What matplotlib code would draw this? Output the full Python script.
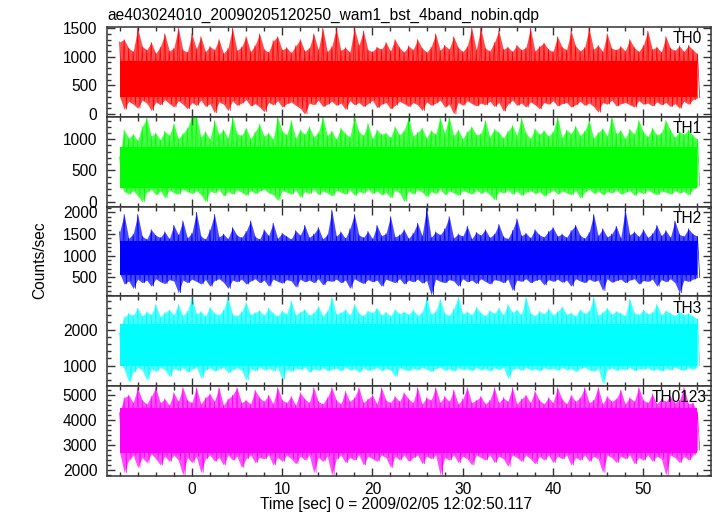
import numpy as np
import matplotlib
matplotlib.use("Agg")
import matplotlib.pyplot as plt
from matplotlib.ticker import MultipleLocator

plt.rcParams['font.family'] = ['Liberation Sans', 'DejaVu Sans']

# bin times (sec), 0.5 s resolution of the read-off envelopes
time = np.arange(-8.0, 56.01, 0.5)

panel_names = ['TH0', 'TH1', 'TH2', 'TH3', 'TH0123']
colors = ['#ff0000', '#00ff00', '#0000ff', '#00ffff', '#ff00ff']

# upper / lower envelopes of each light curve (counts/sec)
th0_hi = [1260, 1300, 1150, 1090, 1500, 1180, 1120, 1250, 1060, 1170, 1400, 1100, 1150, 1500, 1120, 1080,
          1400, 1140, 1350, 1090, 1180, 1120, 1300, 1060, 1150, 1500, 1110, 1170, 1350, 1090, 1200, 1400,
          1130, 1080, 1280, 1350, 1120, 1160, 1070, 1190, 1300, 1100, 1150, 1400, 1120, 1500, 1090, 1180,
          1500, 1110, 1160, 1080, 1500, 1200, 1450, 1120, 1090, 1170, 1130, 1250, 1100, 1300, 1160, 1080,
          1190, 1120, 1300, 1150, 1080, 1170, 1400, 1110, 1200, 1130, 1350, 1160, 1090, 1180, 1500, 1120,
          1500, 1150, 1100, 1250, 1450, 1130, 1170, 1090, 1200, 1120, 1160, 1500, 1100, 1180, 1240, 1130,
          1090, 1350, 1170, 1120, 1450, 1190, 1100, 1160, 1500, 1130, 1200, 1090, 1400, 1150, 1120, 1180,
          1100, 1300, 1160, 1090, 1200, 1450, 1130, 1170, 1080, 1350, 1150, 1110, 1190, 1090, 1200, 1120,
          1050]
th0_lo = [300, 80, 220, 170, 100, 240, 190, 60, 210, 160, 250, 180, 120, 230, 170, 90,
          200, 150, 240, 130, 180, 20, 210, 170, 60, 230, 150, 190, 250, 140, 180, 120,
          40, 200, 160, 230, 120, 180, 210, 150, 100, 0, 190, 160, 240, 130, 170, 220,
          150, 190, 80, 230, 160, 200, 130, 180, 240, 110, 170, 200, 90, 150, 220, 180,
          130, 200, 160, 60, 210, 150, 190, 240, 120, 170, 0, 200, 150, 230, 180, 140,
          190, 160, 220, 130, 200, 50, 170, 240, 150, 190, 120, 210, 160, 90, 200, 170,
          230, 140, 180, 200, 120, 160, 220, 150, 190, 130, 30, 200, 170, 240, 140, 180,
          200, 160, 120, 230, 170, 190, 140, 210, 160, 200, 130, 180, 100, 220, 170, 250,
          280]

th1_hi = [720, 1150, 1020, 1080, 980, 1200, 1340, 1050, 1100, 990, 1130, 1060, 1250, 1010, 1090, 1180,
          1360, 1360, 1040, 1120, 1000, 1300, 1080, 1150, 1020, 1360, 1090, 1060, 1180, 1010, 1120, 1240,
          1050, 1100, 1000, 1360, 1130, 1070, 1300, 1020, 1150, 1080, 1200, 1040, 1110, 1360, 1060, 1130,
          1000, 1180, 1090, 1040, 1360, 1120, 1060, 1250, 1010, 1150, 1080, 1100, 1030, 1200, 1070, 1140,
          1360, 1050, 1110, 1180, 1020, 1140, 1080, 1340, 1100, 1360, 1060, 1150, 1010, 1120, 1200, 1070,
          1090, 1300, 1040, 1160, 1110, 1020, 1130, 1220, 1060, 1340, 1100, 1010, 1170, 1080, 1140, 1050,
          1120, 1360, 1030, 1150, 1090, 1210, 1060, 1130, 1300, 1020, 1110, 1170, 1050, 1360, 1090, 1140,
          1010, 1160, 1080, 1300, 1120, 1040, 1180, 1070, 1100, 1300, 1150, 1030, 1120, 1080, 1150, 1060,
          1000]
th1_lo = [300, 160, 120, 180, 90, 0, 150, 200, 110, 170, 60, 190, 140, 120, 200, 160,
          130, 180, 110, 0, 170, 140, 200, 90, 160, 120, 190, 150, 100, 180, 130, 170,
          200, 140, 110, 20, 180, 150, 120, 190, 70, 160, 130, 200, 110, 170, 140, 90,
          180, 150, 120, 190, 100, 160, 140, 200, 130, 170, 110, 150, 60, 190, 140, 0,
          170, 120, 190, 150, 80, 160, 130, 200, 110, 170, 140, 100, 180, 150, 120, 190,
          130, 170, 110, 30, 160, 140, 190, 120, 170, 100, 150, 180, 130, 160, 90, 140,
          190, 120, 170, 140, 110, 180, 60, 150, 200, 130, 170, 110, 160, 140, 190, 120,
          150, 180, 100, 160, 130, 190, 140, 110, 170, 150, 120, 180, 140, 160, 110, 200,
          250]

th2_hi = [1550, 1950, 1400, 1500, 1950, 1450, 1380, 1600, 1470, 1420, 1550, 1390, 1700, 1480, 1800, 1410,
          1520, 2000, 1450, 1380, 1600, 1950, 1430, 1500, 1390, 1650, 1470, 1420, 1560, 1800, 1440, 1380,
          1600, 1460, 1750, 1400, 1520, 1450, 1380, 1580, 1470, 1700, 1420, 1500, 1650, 1390, 1480, 2050,
          1450, 1550, 1400, 1620, 1950, 1480, 1420, 1560, 1390, 1700, 1460, 1510, 1900, 1430, 1480, 1600,
          1400, 1520, 1750, 1460, 2100, 1420, 1550, 1480, 1620, 1900, 1410, 1500, 1450, 1680, 1390, 1540,
          1470, 1600, 1420, 1500, 1720, 1440, 1390, 1580, 1850, 1460, 1520, 1410, 1600, 1480, 1430, 1560,
          1650, 1450, 1500, 1420, 1580, 1700, 1470, 1400, 1540, 1950, 1460, 1620, 1430, 1500, 1680, 1410,
          2050, 1480, 1550, 1440, 1600, 1420, 1510, 1700, 1460, 1580, 1420, 1800, 1490, 1450, 1620, 1500,
          1450]
th2_lo = [600, 350, 420, 250, 460, 380, 440, 300, 470, 400, 360, 450, 420, 150, 440, 380,
          460, 410, 350, 450, 300, 430, 470, 390, 250, 440, 400, 460, 350, 420, 470, 380,
          440, 300, 460, 410, 370, 450, 420, 280, 460, 400, 440, 380, 470, 330, 430, 410,
          460, 380, 440, 250, 470, 410, 360, 450, 400, 440, 300, 460, 420, 380, 470, 350,
          440, 400, 460, 370, 430, 100, 460, 410, 380, 450, 420, 300, 470, 400, 440, 360,
          470, 410, 350, 450, 430, 380, 460, 200, 440, 410, 470, 380, 430, 460, 330, 450,
          410, 460, 390, 440, 300, 470, 420, 380, 460, 410, 440, 200, 470, 390, 430, 460,
          380, 440, 470, 350, 430, 410, 460, 300, 450, 400, 470, 380, 150, 440, 410, 460,
          500]

th3_hi = [1900, 2350, 2450, 2400, 2600, 2380, 2500, 2420, 2700, 2360, 2480, 2550, 2410, 2700, 2390, 2520,
          2900, 2440, 2500, 2380, 2620, 2460, 2410, 2550, 2900, 2430, 2380, 2500, 2750, 2420, 2480, 2530,
          2400, 2600, 2460, 2380, 2520, 2440, 2800, 2410, 2490, 2560, 2400, 2470, 2650, 2390, 2510, 2900,
          2430, 2480, 2560, 2400, 2700, 2450, 2390, 2520, 2470, 2600, 2410, 2490, 2380, 2560, 2440, 2500,
          2420, 2550, 2400, 2480, 2900, 2430, 2510, 2850, 2460, 2390, 2580, 2900, 2440, 2500, 2410, 2620,
          2470, 2390, 2530, 2450, 2600, 2410, 2700, 2480, 2550, 2420, 2900, 2460, 2390, 2510, 2440, 2580,
          2410, 2500, 2640, 2430, 2470, 2380, 2560, 2450, 2520, 2900, 2400, 2480, 2600, 2430, 2510, 2460,
          2390, 2850, 2470, 2420, 2550, 2440, 2480, 2700, 2410, 2530, 2460, 2390, 2500, 2420, 2450, 2380,
          2300]
th3_lo = [1100, 900, 550, 820, 950, 870, 600, 910, 840, 960, 880, 700, 930, 860, 950, 820,
          900, 970, 650, 880, 940, 850, 910, 960, 800, 890, 940, 870, 600, 920, 850, 960,
          880, 930, 860, 950, 620, 900, 840, 930, 890, 960, 820, 910, 870, 940, 860, 900,
          930, 850, 960, 880, 910, 820, 940, 870, 900, 950, 860, 920, 880, 700, 940, 890,
          860, 930, 880, 950, 900, 840, 920, 960, 870, 910, 850, 940, 890, 920, 860, 950,
          880, 920, 850, 940, 890, 960, 650, 900, 930, 870, 950, 880, 910, 860, 940, 900,
          930, 870, 950, 890, 910, 840, 920, 960, 880, 850, 930, 500, 900, 940, 870, 910,
          890, 950, 860, 920, 900, 940, 870, 910, 850, 930, 880, 960, 900, 870, 940, 900,
          1000]

th0123_hi = [4300, 4900, 5000, 4700, 5300, 4800, 4650, 4950, 5300, 4700, 4850, 4600, 5100, 4750, 5300, 4800,
             4700, 5300, 4650, 4900, 5050, 4750, 5300, 4600, 4850, 5000, 5300, 4700, 4800, 4650, 5200, 4900,
             4750, 5000, 4650, 5300, 4800, 4700, 4950, 4600, 5100, 4850, 4700, 5300, 4750, 4650, 4900, 5300,
             4800, 4650, 5150, 4750, 4900, 5300, 4700, 4850, 5000, 4650, 5300, 4800, 4700, 4950, 4750, 5100,
             4850, 4700, 5300, 4650, 4900, 4800, 5300, 4700, 4950, 4750, 5200, 4650, 4850, 5300, 4700, 4800,
             4950, 4650, 4800, 5300, 4700, 4900, 4750, 5300, 4650, 4850, 5000, 4700, 5150, 4800, 4650, 4900,
             4700, 5300, 4850, 4650, 5000, 4750, 4900, 5300, 4700, 4800, 5300, 4650, 4950, 4750, 4850, 5200,
             4650, 4900, 4750, 5300, 4800, 4700, 5050, 4650, 4850, 4750, 4950, 4700, 4800, 5300, 4650, 4700,
             4300]
th0123_lo = [2700, 1900, 2400, 2600, 2100, 2500, 2300, 2650, 2450, 2200, 2550, 2350, 2600, 2400, 1800, 2500,
             2300, 2550, 1900, 2450, 2600, 2350, 2500, 2200, 2600, 2400, 2550, 2100, 2450, 2600, 2300, 2500,
             2450, 2600, 2200, 2500, 2350, 2600, 2450, 2250, 2550, 2400, 2600, 1900, 2500, 2350, 2550, 1800,
             2450, 2600, 2300, 2500, 2400, 2600, 2200, 2550, 2450, 2350, 2600, 2500, 2100, 2550, 2400, 2600,
             2350, 2500, 2600, 2250, 2550, 2450, 2600, 1800, 2500, 2400, 2600, 2300, 2550, 2450, 2200, 2600,
             2500, 2400, 2600, 2300, 2550, 2450, 2150, 2600, 2500, 2350, 2600, 2450, 2250, 2550, 2400, 2600,
             2300, 2550, 2450, 2600, 2200, 2500, 2400, 2600, 2350, 2550, 2450, 1900, 2600, 2500, 2300, 2550,
             2450, 2600, 2250, 2500, 2400, 2600, 2350, 2550, 2450, 1800, 2600, 2500, 2300, 2550, 2400, 2600,
             2800]

# dense core of each band (counts/sec)
core_bands = [(290, 930), (220, 870), (560, 1330), (1000, 2150), (2700, 4500)]

highs = [th0_hi, th1_hi, th2_hi, th3_hi, th0123_hi]
lows = [th0_lo, th1_lo, th2_lo, th3_lo, th0123_lo]

ylims = [(-50, 1520), (-80, 1360), (65, 2130), (430, 2925), (1760, 5360)]
major_steps = [500, 500, 500, 1000, 1000]
minor_steps = [100, 100, 100, 200, 200]
label_x = [0.985, 0.985, 0.985, 0.985, 0.993]

fig = plt.figure(figsize=(7.17, 5.16), dpi=100)
left, right = 107 / 717, 711 / 717
top, bottom = 1 - 27 / 516, 1 - 476 / 516
h = (top - bottom) / 5

for k in range(5):
    ax = fig.add_axes([left, top - (k + 1) * h, right - left, h])

    hi = np.array(highs[k])
    lo = np.array(lows[k])
    xs = np.empty(2 * len(time))
    ys = np.empty(2 * len(time))
    xs[0::2] = time
    xs[1::2] = time + 0.25
    ys[0::2] = hi
    ys[1::2] = lo

    c_lo, c_hi = core_bands[k]
    # fuzzy envelope, solid core, then the spikes on top
    ax.fill_between(time, lo, hi, color=colors[k], alpha=0.7, lw=0)
    ax.fill_between(time, c_lo, c_hi, color=colors[k], lw=0)
    ax.plot(xs, ys, color=colors[k], lw=0.5)

    ax.set_xlim(-9.4, 57.5)
    ax.set_ylim(*ylims[k])
    ax.xaxis.set_major_locator(MultipleLocator(10))
    ax.xaxis.set_minor_locator(MultipleLocator(2))
    ax.yaxis.set_major_locator(MultipleLocator(major_steps[k]))
    ax.yaxis.set_minor_locator(MultipleLocator(minor_steps[k]))
    ax.tick_params(which='both', direction='in', top=True, right=True,
                   color='#333333', width=1.0, labelsize=11.2)
    ax.tick_params(which='major', length=6)
    ax.tick_params(which='minor', length=3)
    ax.tick_params(axis='y', pad=7)
    ax.tick_params(axis='x', pad=4)
    for sp in ax.spines.values():
        sp.set_color('#333333')
        sp.set_linewidth(1.1)
    if k < 4:
        ax.tick_params(labelbottom=False)

    ax.text(label_x[k], 0.87, panel_names[k], transform=ax.transAxes,
            ha='right', va='center', fontsize=11.2)

fig.text(left, 1 - 15 / 516, 'ae403024010_20090205120250_wam1_bst_4band_nobin.qdp',
         ha='left', va='center', fontsize=11.2)
fig.text(40 / 717, 1 - 260 / 516, 'Counts/sec', rotation=90,
         ha='center', va='center', fontsize=11.2)
fig.text(396 / 717, 1 - 505 / 516, 'Time [sec] 0 = 2009/02/05 12:02:50.117',
         ha='center', va='center', fontsize=11.2)

fig.savefig('out.png', dpi=100)
